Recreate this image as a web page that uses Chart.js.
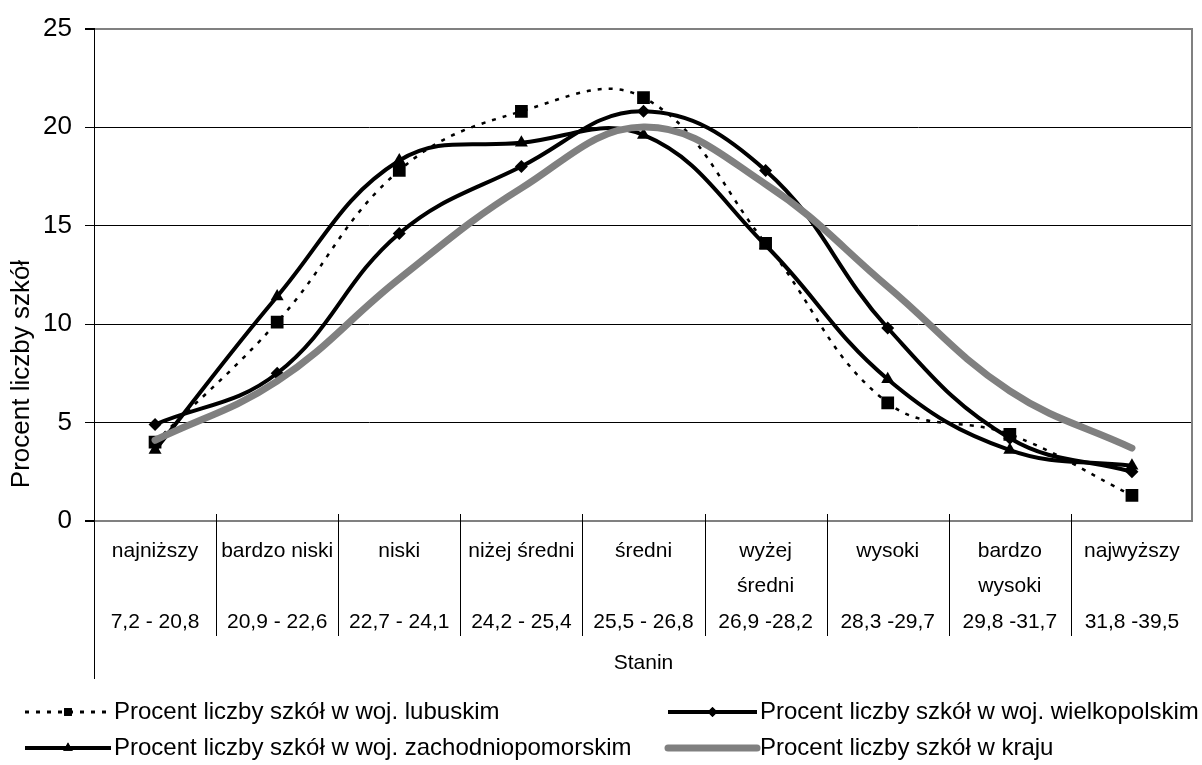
<!DOCTYPE html>
<html>
<head>
<meta charset="utf-8">
<script src="https://cdn.jsdelivr.net/npm/chart.js@4.4.1/dist/chart.umd.min.js"></script>
<style>
  html, body { margin: 0; padding: 0; background: #fff; }
  #wrap { width: 1202px; height: 765px; }
</style>
</head>
<body>
<div id="wrap"><canvas id="chart" width="1202" height="765"></canvas></div>
<script>
// stanin categories (name lines + score range)
const stanineNames = [['najniższy'], ['bardzo niski'], ['niski'], ['niżej średni'], ['średni'],
    ['wyżej', 'średni'], ['wysoki'], ['bardzo', 'wysoki'], ['najwyższy']];
const stanineRanges = ['7,2 - 20,8', '20,9 - 22,6', '22,7 - 24,1', '24,2 - 25,4', '25,5 - 26,8',
    '26,9 -28,2', '28,3 -29,7', '29,8 -31,7', '31,8 -39,5'];

// percent of schools per stanin
const lubuskie = [4.0, 10.1, 17.8, 20.8, 21.5, 14.1, 6.0, 4.4, 1.3];
const wielkopolskie = [4.9, 7.5, 14.6, 18.0, 20.8, 17.8, 9.8, 4.2, 2.5];
const zachodniopomorskie = [3.6, 11.4, 18.3, 19.2, 19.6, 14.0, 7.2, 3.6, 2.8];
const kraj = [4.1, 7.1, 12.3, 16.9, 20.0, 17.1, 11.9, 6.6, 3.7];

const seriesNames = [
    'Procent liczby szkół w woj. lubuskim',
    'Procent liczby szkół w woj. wielkopolskim',
    'Procent liczby szkół w woj. zachodniopomorskim',
    'Procent liczby szkół w kraju'
];
const yMin = 0;
const yMax = 25;
const yStep = 5;
const xTitle = 'Stanin';
const yTitle = 'Procent liczby szkół';

const FONT = '"Liberation Sans", Arial, sans-serif';
const labels = stanineNames.map((n, i) => [n[0], n[1] || '', stanineRanges[i]]);

// legend slots: column x, row y, sample length, marker radius
const legendSlots = [
    { x: 25, y: 712, w: 86, r: 5.5 },
    { x: 668, y: 712, w: 89, r: 5 },
    { x: 25, y: 748, w: 86, r: 5.5 },
    { x: 668, y: 748, w: 89, r: 0 }
];

const decorPlugin = {
    id: 'decor',
    beforeDatasetsDraw(chart) {
        const { ctx, chartArea: a, scales: { x } } = chart;
        ctx.save();
        // right frame line
        ctx.strokeStyle = '#808080';
        ctx.lineWidth = 2;
        ctx.beginPath();
        ctx.moveTo(a.right - 1, a.top);
        ctx.lineTo(a.right - 1, a.bottom);
        ctx.stroke();
        // category dividers + axis extension
        ctx.strokeStyle = '#000';
        ctx.lineWidth = 1;
        ctx.beginPath();
        for (let i = 1; i < x.ticks.length; i++) {
            const bx = Math.round((x.getPixelForTick(i - 1) + x.getPixelForTick(i)) / 2) + 0.5;
            ctx.moveTo(bx, a.bottom - 7);
            ctx.lineTo(bx, a.bottom + 115);
        }
        const lx = Math.round(a.left) + 0.5;
        ctx.moveTo(lx, a.bottom);
        ctx.lineTo(lx, a.bottom + 158);
        ctx.stroke();
        // axis titles
        ctx.fillStyle = '#000';
        ctx.textAlign = 'center';
        ctx.textBaseline = 'middle';
        ctx.font = '21px ' + FONT;
        ctx.fillText(xTitle, (a.left + a.right) / 2, 663);
        ctx.translate(22, 374);
        ctx.rotate(-Math.PI / 2);
        ctx.font = '26px ' + FONT;
        ctx.fillText(yTitle, 0, 0);
        ctx.restore();
    },
    afterDraw(chart) {
        const { ctx } = chart;
        ctx.save();
        chart.data.datasets.forEach((ds, i) => {
            const s = legendSlots[i];
            ctx.strokeStyle = ds.borderColor;
            ctx.lineWidth = ds.legendWidth;
            ctx.lineCap = ds.borderCapStyle || 'butt';
            ctx.setLineDash(ds.borderDash || []);
            ctx.beginPath();
            ctx.moveTo(s.x, s.y);
            ctx.lineTo(s.x + s.w, s.y);
            ctx.stroke();
            ctx.setLineDash([]);
            if (s.r > 0) {
                Chart.helpers.drawPoint(ctx, {
                    pointStyle: ds.pointStyle, radius: s.r, rotation: 0, borderWidth: 0
                }, s.x + s.w / 2, s.y);
                ctx.fillStyle = '#000';
                ctx.fill();
            }
            ctx.fillStyle = '#000';
            ctx.textAlign = 'left';
            ctx.textBaseline = 'middle';
            ctx.font = '24px ' + FONT;
            ctx.fillText(ds.label, s.x + s.w + 3, s.y);
        });
        ctx.restore();
    }
};

const edge = (c) => c.tick && (c.tick.value === yMin || c.tick.value === yMax);

new Chart(document.getElementById('chart').getContext('2d'), {
    type: 'line',
    data: {
        labels,
        datasets: [{
            label: seriesNames[0],
            data: lubuskie,
            borderColor: '#000',
            borderWidth: 2.5,
            legendWidth: 3,
            borderDash: [4, 7],
            pointStyle: 'rect',
            pointRadius: 9,
            pointBackgroundColor: '#000',
            pointBorderWidth: 0,
            order: 4
        }, {
            label: seriesNames[1],
            data: wielkopolskie,
            borderColor: '#000',
            borderWidth: 4,
            legendWidth: 4,
            pointStyle: 'rectRot',
            pointRadius: 6.5,
            pointBackgroundColor: '#000',
            pointBorderWidth: 0,
            order: 3
        }, {
            label: seriesNames[2],
            data: zachodniopomorskie,
            borderColor: '#000',
            borderWidth: 4,
            legendWidth: 4,
            pointStyle: 'triangle',
            pointRadius: 7.5,
            pointBackgroundColor: '#000',
            pointBorderWidth: 0,
            order: 2
        }, {
            label: seriesNames[3],
            data: kraj,
            borderColor: '#808080',
            borderWidth: 7,
            legendWidth: 7,
            borderCapStyle: 'round',
            pointRadius: 0,
            order: 1
        }]
    },
    options: {
        responsive: false,
        animation: false,
        devicePixelRatio: 1,
        elements: { line: { tension: 0.4 } },
        layout: { padding: { top: 25, right: 6, bottom: 86, left: 0 } },
        plugins: {
            legend: { display: false },
            tooltip: { enabled: false }
        },
        scales: {
            x: {
                offset: true,
                grid: { display: false, drawTicks: false },
                border: { display: false },
                ticks: {
                    color: '#000',
                    autoSkip: false,
                    maxRotation: 0,
                    minRotation: 0,
                    padding: 12,
                    font: { family: FONT, size: 21, lineHeight: 1.7 }
                },
                afterFit: (s) => { s.height = 158; }
            },
            y: {
                min: yMin,
                max: yMax,
                ticks: {
                    stepSize: yStep,
                    color: '#000',
                    padding: 13,
                    font: { family: FONT, size: 26 }
                },
                grid: {
                    color: (c) => edge(c) ? '#808080' : '#000',
                    lineWidth: (c) => edge(c) ? 2 : 1,
                    tickColor: '#000',
                    tickLength: 9
                },
                border: { color: '#000', width: 1 },
                afterFit: (s) => { s.width = 94; }
            }
        }
    },
    plugins: [decorPlugin]
});
</script>
</body>
</html>
